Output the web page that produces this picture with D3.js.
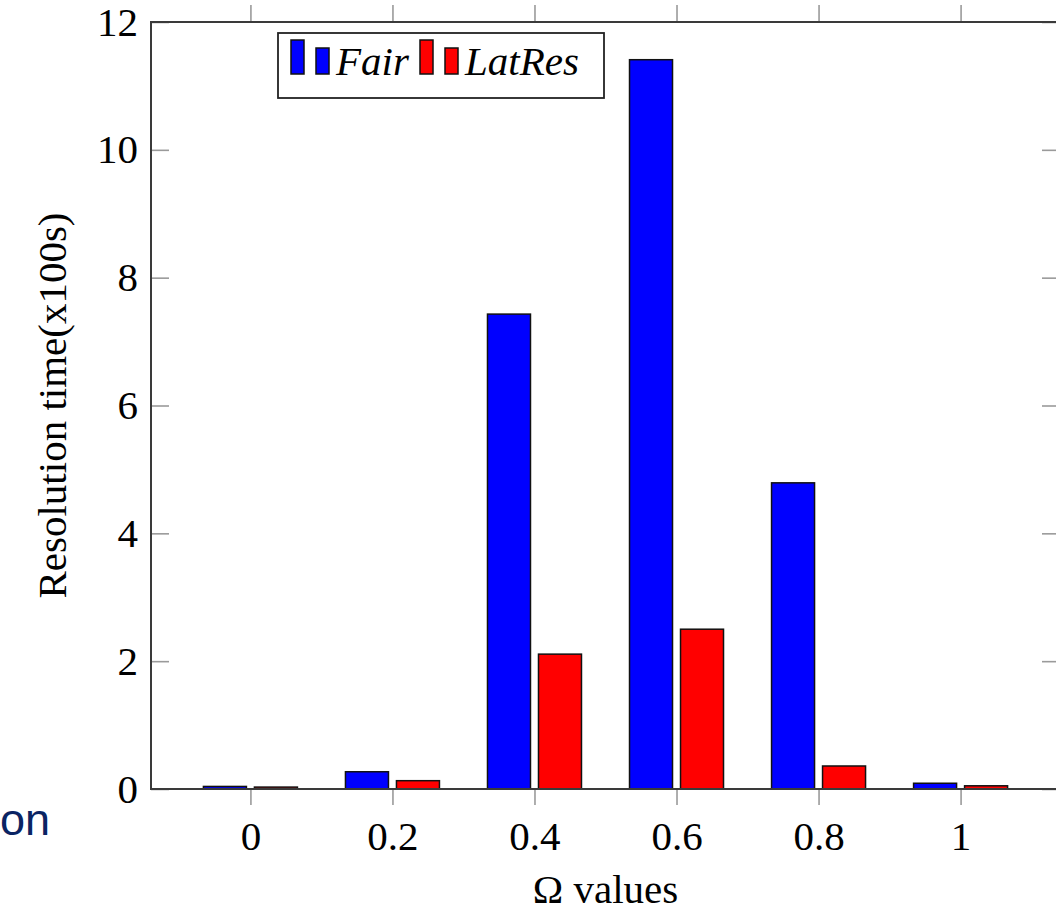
<!DOCTYPE html>
<html>
<head>
<meta charset="utf-8">
<script src="https://cdn.jsdelivr.net/npm/d3@7"></script>
<style>
	body { margin: 0; background: #fff; }
	svg { display: block; }
	text { font-family: 'Liberation Serif', 'Times New Roman', serif; }
</style>
</head>
<body>
<script>
"use strict"
// values
const omega = [0, 0.2, 0.4, 0.6, 0.8, 1];
const xTickLabels = ['0', '0.2', '0.4', '0.6', '0.8', '1'];
const fair = [0.04, 0.27, 7.43, 11.41, 4.79, 0.09];
const latRes = [0.03, 0.13, 2.11, 2.50, 0.36, 0.05];
const yTicks = [0, 2, 4, 6, 8, 10, 12];
const seriesNames = ['Fair', 'LatRes'];
const seriesColors = ['#0000ff', '#ff0000'];

const w = 1056;
const h = 911;
const plotLeft = 151, plotRight = 1060, plotTop = 22, plotBottom = 789;
const barW = 43;
const barGap = 8;
const frameColor = '#3a3a3a';
const tickColor = '#9a9a9a';

const mySvg = d3.select('body')
		.append('svg')
		.attr('width', w)
		.attr('height', h);

const xScale = d3.scaleLinear()
	.domain([-0.14, 1.14])
	.range([plotLeft, plotRight]);

const yScale = d3.scaleLinear()
	.domain([0, 12])
	.range([plotBottom, plotTop]);

// axes
function styleAxis(g, size) {
	g.select('.domain').remove();
	g.selectAll('.tick line')
		.attr('stroke', tickColor)
		.attr('stroke-width', 1.6);
	g.selectAll('.tick text')
		.attr('fill', '#000')
		.style('font-family', "'Liberation Serif', 'Times New Roman', serif")
		.style('font-size', size + 'px');
}

mySvg.append('g')
	.attr('transform', 'translate(' + plotLeft + ',0)')
	.call(d3.axisLeft(yScale).tickValues(yTicks).tickSize(-18).tickPadding(13).tickFormat(d => String(d)))
	.call(g => styleAxis(g, 41));

mySvg.append('g')
	.attr('transform', 'translate(' + plotRight + ',0)')
	.call(d3.axisRight(yScale).tickValues(yTicks).tickSize(-18).tickFormat(''))
	.call(g => styleAxis(g, 41));

mySvg.append('g')
	.attr('transform', 'translate(0,' + plotBottom + ')')
	.call(d3.axisBottom(xScale).tickValues(omega).tickSize(16).tickPadding(16)
		.tickFormat((d, i) => xTickLabels[i]))
	.call(g => styleAxis(g, 41));

mySvg.append('g')
	.attr('transform', 'translate(0,' + plotTop + ')')
	.call(d3.axisTop(xScale).tickValues(omega).tickSize(17).tickFormat(''))
	.call(g => styleAxis(g, 41));

// bars
const series = [fair, latRes];
series.forEach((vals, s) => {
	const offset = s === 0 ? -(barW + barGap) / 2 : (barW + barGap) / 2;
	mySvg.append('g')
		.selectAll('rect')
		.data(vals)
		.enter()
		.append('rect')
		.attr('x', (d, i) => xScale(omega[i]) + offset - barW / 2)
		.attr('y', d => yScale(d))
		.attr('width', barW)
		.attr('height', d => plotBottom - yScale(d))
		.attr('fill', seriesColors[s])
		.attr('stroke', '#111')
		.attr('stroke-width', 1.5);
});

// frame
mySvg.append('rect')
	.attr('x', plotLeft)
	.attr('y', plotTop)
	.attr('width', plotRight - plotLeft)
	.attr('height', plotBottom - plotTop)
	.attr('fill', 'none')
	.attr('stroke', frameColor)
	.attr('stroke-width', 2);

// legend
const legend = mySvg.append('g');
legend.append('rect')
	.attr('x', 278)
	.attr('y', 33)
	.attr('width', 326)
	.attr('height', 65)
	.attr('fill', '#fff')
	.attr('stroke', '#222')
	.attr('stroke-width', 1.8);

const legendX = [291, 420];
seriesNames.forEach((name, s) => {
	const x0 = legendX[s];
	legend.append('rect')
		.attr('x', x0).attr('y', 40).attr('width', 13).attr('height', 34)
		.attr('fill', seriesColors[s]).attr('stroke', '#111').attr('stroke-width', 1.5);
	legend.append('rect')
		.attr('x', x0 + 25).attr('y', 48).attr('width', 13).attr('height', 26)
		.attr('fill', seriesColors[s]).attr('stroke', '#111').attr('stroke-width', 1.5);
	legend.append('text')
		.attr('x', x0 + 45)
		.attr('y', 75)
		.style('font-size', '41px')
		.style('font-style', 'italic')
		.text(name);
});

// axis titles
mySvg.append('text')
	.attr('x', (plotLeft + plotRight) / 2)
	.attr('y', 903)
	.attr('text-anchor', 'middle')
	.style('font-size', '41px')
	.text('\u03A9 values');

mySvg.append('text')
	.attr('transform', 'translate(66,' + ((plotTop + plotBottom) / 2) + ') rotate(-90)')
	.attr('text-anchor', 'middle')
	.style('font-size', '41px')
	.text('Resolution time(x100s)');

// cropped slide text at the left edge
mySvg.append('text')
	.attr('x', 50)
	.attr('y', 835)
	.attr('text-anchor', 'end')
	.attr('fill', '#0a2463')
	.style('font-family', "'Liberation Sans', Arial, sans-serif")
	.style('font-size', '45px')
	.text('on');
</script>
</body>
</html>
